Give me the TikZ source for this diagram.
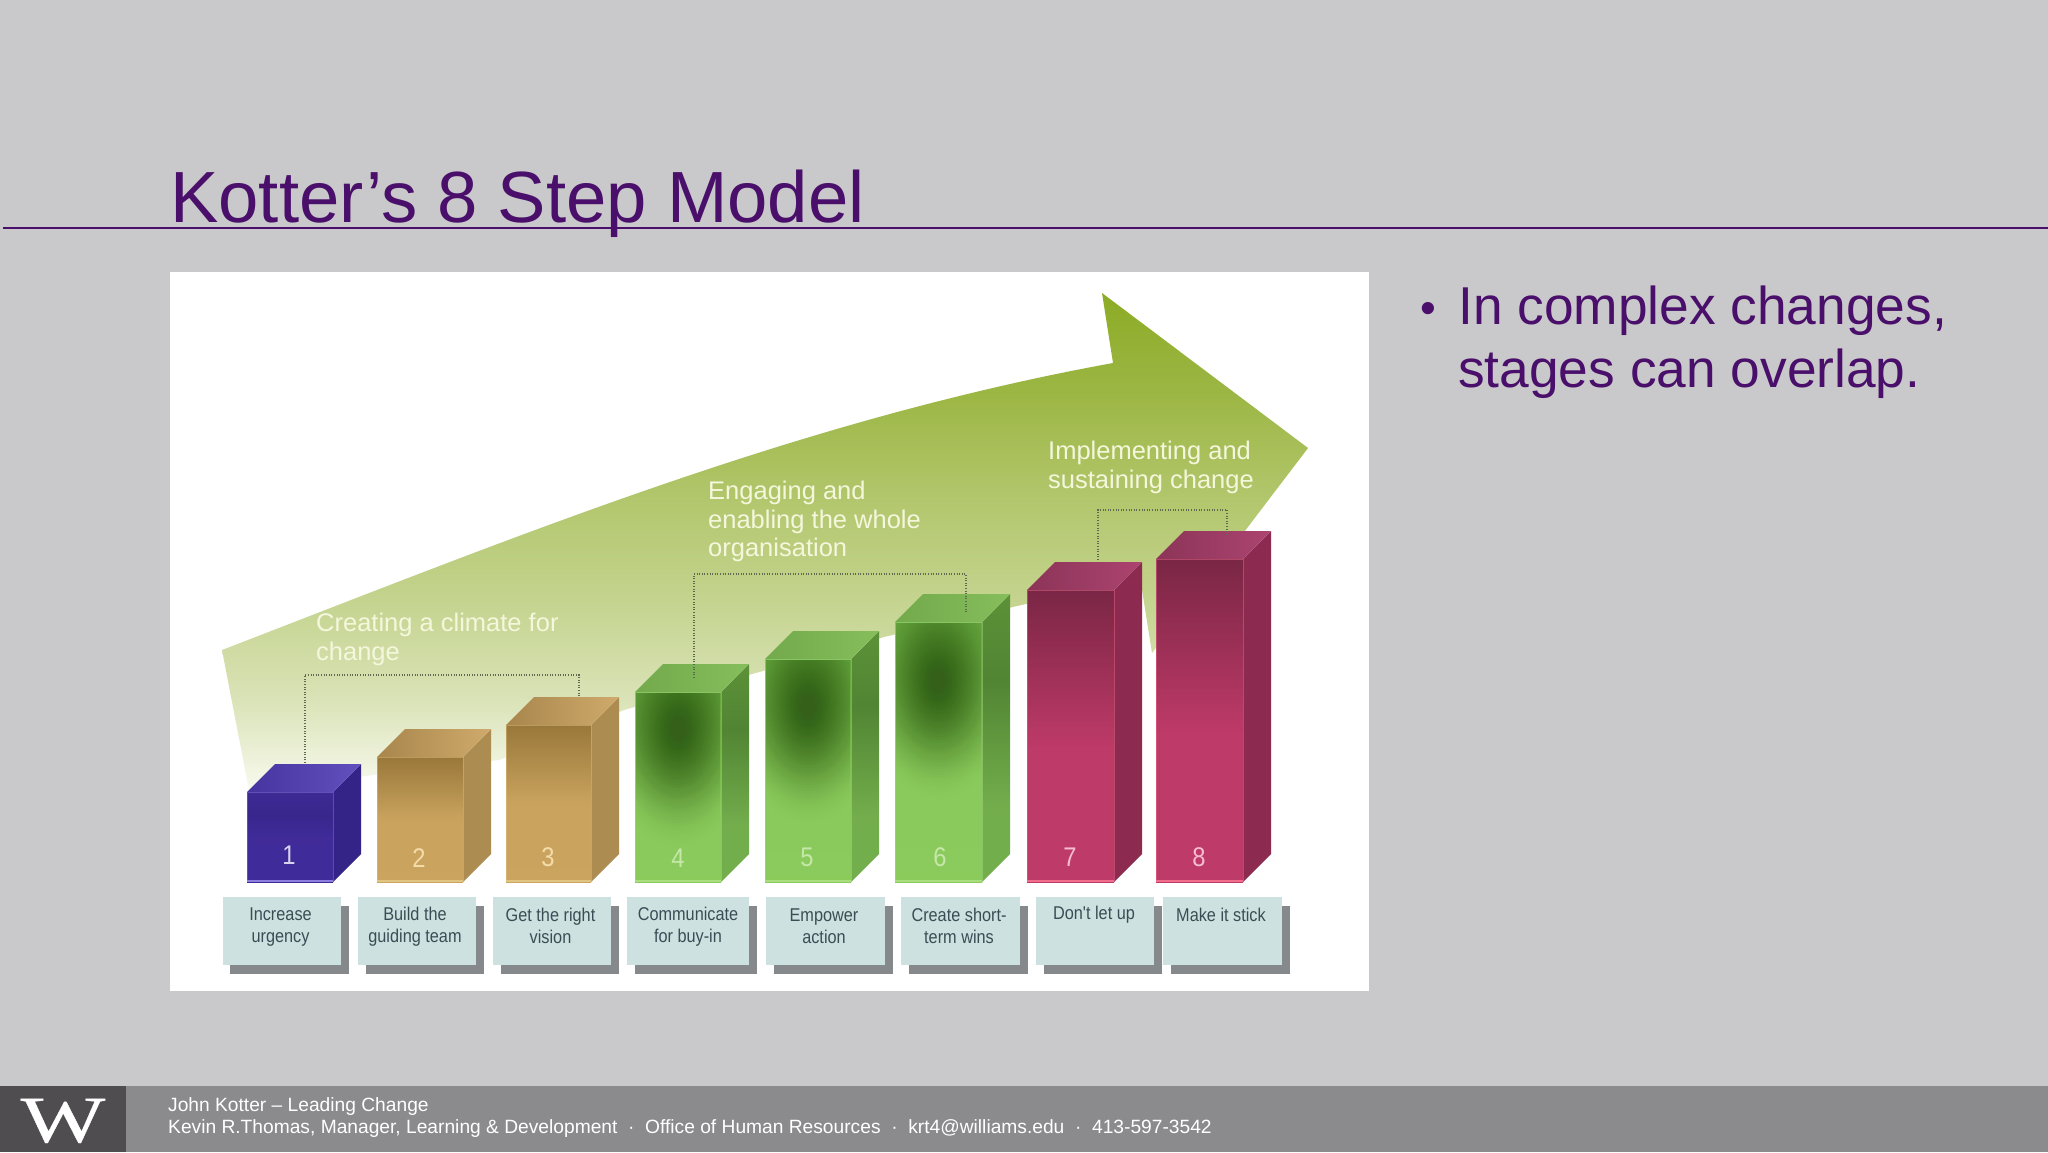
\documentclass[tikz,border=0pt]{standalone}
\usepackage{fontspec}
\setmainfont{Liberation Sans}
\newfontfamily\narrowf[FakeStretch=0.88]{Liberation Sans}
\newfontfamily\wfont[FakeStretch=1.36,FakeBold=0.6]{Liberation Serif}
\usetikzlibrary{shadows}
\definecolor{slidebg}{HTML}{C9C8CA}
\definecolor{plum}{HTML}{4A0F6B}
\definecolor{footbar}{HTML}{8B8A8C}
\definecolor{footbox}{HTML}{4F4D50}
\definecolor{boxfill}{HTML}{CDE2E0}
\definecolor{boxshadow}{HTML}{85898B}
\definecolor{boxtext}{HTML}{3A4D55}
\definecolor{arrowtext}{HTML}{F4F7DC}
\definecolor{brk}{HTML}{5E6A50}
\definecolor{crimA}{RGB}{140,42,80}
\definecolor{crimB}{RGB}{140,52,88}
\definecolor{crimC}{RGB}{172,68,112}
\definecolor{crimD}{RGB}{240,110,140}
\definecolor{tanA}{RGB}{172,140,80}
\definecolor{tanB}{RGB}{168,134,76}
\definecolor{tanC}{RGB}{208,170,108}
\definecolor{tanD}{RGB}{226,196,130}
\definecolor{grnB}{RGB}{114,170,76}
\definecolor{grnC}{RGB}{134,190,92}
\definecolor{grnD}{RGB}{168,222,128}
\definecolor{grnE}{RGB}{52,96,26}
\definecolor{purA}{RGB}{52,36,136}
\definecolor{purB}{RGB}{70,52,160}
\definecolor{purC}{RGB}{98,80,190}
\definecolor{purD}{RGB}{140,126,220}
\definecolor{numP}{RGB}{216,211,240}
\definecolor{numT}{RGB}{244,220,168}
\definecolor{numG}{RGB}{197,232,168}
\definecolor{numC}{RGB}{246,188,208}
\pgfdeclareverticalshading{arrowS}{100bp}{
 color(0bp)=(white);
 rgb(25bp)=(0.972,0.98,0.933);
 rgb(34bp)=(0.855,0.89,0.72);
 rgb(44bp)=(0.77,0.83,0.56);
 rgb(54bp)=(0.70,0.78,0.43);
 rgb(64bp)=(0.62,0.72,0.28);
 rgb(75bp)=(0.549,0.671,0.145);
 rgb(100bp)=(0.549,0.671,0.145)}
\pgfdeclareverticalshading{crimsonS}{100bp}{
 rgb(0bp)=(0.745,0.227,0.408);
 rgb(48bp)=(0.745,0.227,0.408);
 rgb(75bp)=(0.478,0.149,0.271);
 rgb(100bp)=(0.478,0.149,0.271)}
\pgfdeclareverticalshading{tanS}{100bp}{
 rgb(0bp)=(0.80,0.65,0.38);
 rgb(50bp)=(0.79,0.64,0.37);
 rgb(75bp)=(0.60,0.47,0.23);
 rgb(100bp)=(0.60,0.47,0.23)}
\pgfdeclareverticalshading{greenS}{100bp}{
 rgb(0bp)=(0.55,0.80,0.36);
 rgb(46bp)=(0.54,0.79,0.36);
 rgb(75bp)=(0.44,0.70,0.28);
 rgb(100bp)=(0.44,0.70,0.28)}
\pgfdeclareverticalshading{greensideS}{100bp}{
 rgb(0bp)=(0.46,0.69,0.30);
 rgb(38bp)=(0.45,0.68,0.30);
 rgb(60bp)=(0.32,0.52,0.20);
 rgb(75bp)=(0.36,0.57,0.22);
 rgb(100bp)=(0.36,0.57,0.22)}
\pgfdeclareverticalshading{purpleS}{100bp}{
 rgb(0bp)=(0.24,0.17,0.60);
 rgb(50bp)=(0.25,0.17,0.60);
 rgb(62bp)=(0.22,0.15,0.55);
 rgb(75bp)=(0.24,0.17,0.58);
 rgb(100bp)=(0.24,0.17,0.58)}
\tikzset{
 crimsonfront/.style={shade,shading=crimsonS},
 crimsonside/.style={fill=crimA},
 crimsontop/.style={left color=crimB,right color=crimC},
 crimsonedge/.style={draw=crimD},
 tanfront/.style={shade,shading=tanS},
 tanside/.style={fill=tanA},
 tantop/.style={left color=tanB,right color=tanC},
 tanedge/.style={draw=tanD},
 greenfront/.style={shade,shading=greenS},
 greenside/.style={shade,shading=greensideS},
 greentop/.style={left color=grnB,right color=grnC},
 greenedge/.style={draw=grnD},
 purplefront/.style={shade,shading=purpleS},
 purpleside/.style={fill=purA},
 purpletop/.style={left color=purB,right color=purC},
 purpleedge/.style={draw=purD},
 barnum/.style={font=\narrowf\fontsize{27}{30}\selectfont,inner sep=0pt},
 boxn/.style={fill=boxfill,anchor=north west,minimum height=68pt,inner sep=0pt,
   copy shadow={shadow xshift=7.5pt,shadow yshift=-8.5pt,fill=boxshadow,draw=none,opacity=1}},
 boxtxt/.style={text=boxtext,align=center,inner sep=0pt,font=\narrowf\fontsize{18.5}{22}\selectfont},
 arrowlbl/.style={text=arrowtext,align=left,anchor=north west,inner sep=0pt,font=\fontsize{25.5}{28.5}\selectfont},
 bracketln/.style={draw=brk,line width=1.1pt,dash pattern=on 1pt off 1.6pt},
 footlbl/.style={text=white,anchor=base west,inner sep=0pt,font=\fontsize{19.2}{24}\selectfont},
}
\newcommand{\kbar}[4]{%
 \path[#4side] (#2,#3) -- (#2+28,#3-28) -- (#2+28,854) -- (#2,882) -- cycle;
 \path[#4front] (#1,#3) rectangle (#2,882);
 \path[#4top] (#1,#3) -- (#1+28,#3-28) -- (#2+28,#3-28) -- (#2,#3) -- cycle;
 \path[#4edge,line width=1pt,opacity=0.45] (#1,882) -- (#1,#3) -- (#2,#3) -- (#2,882);
 \path[#4edge,line width=2pt] (#1,881) -- (#2,881);
}
\newcommand{\glow}[5]{%
 \begin{scope}
 \clip (#1,#3) rectangle (#2,881);
 \foreach \r [evaluate=\r as \op using 0.1*(1-\r/41)] in {1,...,40}{
   \fill[grnE,opacity=\op] (#4,#5) ellipse [x radius=\r*1.9pt,y radius=\r*2.9pt];
 }
 \end{scope}
}
\begin{document}
\begin{tikzpicture}[x=1pt,y=-1pt]
\useasboundingbox (0,0) rectangle (2048,1152);
\fill[slidebg] (0,0) rectangle (2048,1152);
% white picture
\fill[white] (170,272) rectangle (1369,991);
% big arrow
\path[shade,shading=arrowS] (222,650) .. controls (520,535) and (800,420) .. (1113,363)
  -- (1102,293) -- (1308,448) -- (1152,653) -- (1140,577) -- (1030,603) -- (884,637) -- (624,710) -- (499,760) -- (249,790) -- cycle;
% bars
\kbar{247}{333}{792}{purple}
\kbar{377}{463}{757}{tan}
\kbar{506}{591}{725}{tan}
\kbar{635}{721}{692}{green}
\glow{636}{720}{693}{678}{730}
\kbar{765}{851}{659}{green}
\glow{766}{850}{660}{808}{707}
\kbar{895}{982}{622}{green}
\glow{896}{981}{623}{938}{682}
\kbar{1027}{1114}{590}{crimson}
\kbar{1156}{1243}{559}{crimson}
% bar numbers
\node[barnum,text=numP] (n1) at (289,855) {1};
\node[barnum,text=numT] (n2) at (419,858) {2};
\node[barnum,text=numT] (n3) at (548,857) {3};
\node[barnum,text=numG] (n4) at (678,858) {4};
\node[barnum,text=numG] (n5) at (807,857) {5};
\node[barnum,text=numG] (n6) at (940,857) {6};
\node[barnum,text=numC] (n7) at (1070,857) {7};
\node[barnum,text=numC] (n8) at (1199,857) {8};
% bracket ends
\coordinate (a1) at (305,763); \coordinate (t1) at (579,675); \coordinate (e1) at (579,696);
\coordinate (a2) at (694,678); \coordinate (t2) at (966,574); \coordinate (e2) at (966,612);
\coordinate (a3) at (1098,560); \coordinate (t3) at (1227,510); \coordinate (e3) at (1227,534);
\draw[bracketln] (a1) |- (t1) -- (e1);
\draw[bracketln] (a2) |- (t2) -- (e2);
\draw[bracketln] (a3) |- (t3) -- (e3);
% arrow labels
\node[arrowlbl] (l1) at (316,613) {Creating a climate for\\change};
\node[arrowlbl] (l2) at (708,481) {Engaging and\\enabling the whole\\organisation};
\node[arrowlbl] (l3) at (1048,441) {Implementing and\\sustaining change};
% label boxes
\node[boxn,minimum width=118.5pt] (b1) at (222.5,897) {};
\node[boxn,minimum width=118pt] (b2) at (358,897) {};
\node[boxn,minimum width=118pt] (b3) at (493,897) {};
\node[boxn,minimum width=122pt] (b4) at (627,897) {};
\node[boxn,minimum width=119pt] (b5) at (766,897) {};
\node[boxn,minimum width=119pt] (b6) at (901,897) {};
\node[boxn,minimum width=118pt] (b7) at (1036,897) {};
\node[boxn,minimum width=119pt] (b8) at (1163,897) {};
\node[boxtxt] (t1a) at (280.5,927) {Increase\\urgency};
\node[boxtxt] (t2a) at (415,927) {Build the\\guiding team};
\node[boxtxt] (t3a) at (550.5,925.5) {Get the right\\vision};
\node[boxtxt] (t4a) at (688,927) {Communicate\\for buy-in};
\node[boxtxt] (t5a) at (824,926) {Empower\\action};
\node[boxtxt] (t6a) at (959,926) {Create short-\\term wins};
\node[boxtxt] (t7a) at (1094,915) {Don't let up};
\node[boxtxt] (t8a) at (1221,915) {Make it stick};
% title
\node[anchor=base west,inner sep=0pt,text=plum,font=\fontsize{72.5}{80}\selectfont] (title) at (170,222) {Kotter’s 8 Step Model};
\coordinate (rl) at (3,228); \coordinate (rr) at (2048,228);
\draw[plum,line width=1.6pt] (rl) -- (rr);
% bullet
\node[anchor=base west,inner sep=0pt,text=plum,font=\fontsize{45}{50}\selectfont] (bul) at (1420,323) {•};
\node[anchor=north west,inner sep=0pt,text=plum,align=left,font=\fontsize{53.3}{62.5}\selectfont] (bt) at (1458,286) {In complex changes,\\stages can overlap.};
% footer
\fill[footbar] (0,1086) rectangle (2048,1152);
\fill[footbox] (0,1086) rectangle (126,1152);
\node[anchor=base,inner sep=0pt,text=white,font=\wfont\fontsize{66}{70}\selectfont] (w) at (63,1142) {W};
\node[footlbl] (f1) at (168,1111) {John Kotter – Leading Change};
\node[footlbl] (f2) at (168,1133) {Kevin R.Thomas, Manager, Learning \& Development\ \ \textperiodcentered\ \ Office of Human Resources\ \ \textperiodcentered\ \ krt4@williams.edu\ \ \textperiodcentered\ \ 413-597-3542};
\end{tikzpicture}
\end{document}
